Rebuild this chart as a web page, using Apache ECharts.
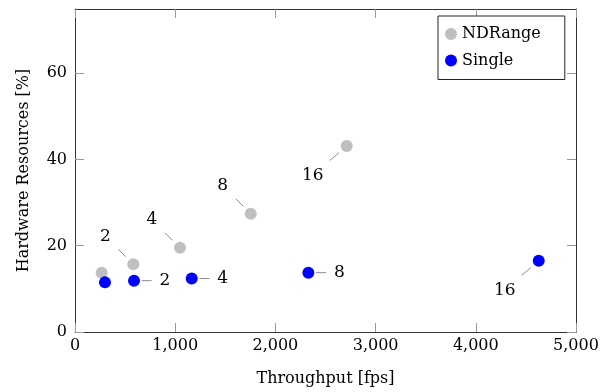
<!DOCTYPE html>
<html>
<head>
<meta charset="utf-8">
<script src="https://cdn.jsdelivr.net/npm/echarts@6/dist/echarts.min.js"></script>
<style>
html,body{margin:0;padding:0;background:#fff;}
#chart{width:604px;height:392px;}
</style>
</head>
<body>
<div id="chart"></div>
<script>
// ---- data ----
const seriesNames = ['NDRange', 'Single'];
const ndrangeX = [266, 582, 1048, 1754, 2712];
const ndrangeY = [13.75, 15.7, 19.5, 27.4, 43.1];
const ndrangeLabels = ['', '2', '4', '8', '16'];
const singleX = [299, 589, 1165, 2329, 4628];
const singleY = [11.5, 11.9, 12.4, 13.75, 16.5];
const singleLabels = ['', '2', '4', '8', '16'];
const xTicks = [0, 1000, 2000, 3000, 4000, 5000];
const yTicks = [0, 20, 40, 60];

// ---- styles (pin placement) ----
const ndrangePins = ['', 'nw', 'nw', 'nw', 'sw'];
const singlePins = ['', 'e', 'e', 'e', 'sw'];
const pinStyle = {
  nw: {label: [-28, -28], line: [[-7.5, -7.5], [-15, -15]]},
  e:  {label: [31, 0],   line: [[7.7, 0], [17.7, 0]]},
  sw: {label: [-34, 29.5], line: [[-7.7, 6.7], [-17, 14.5]]}
};

const FONT = '"DejaVu Serif", serif';
const zip = (xs, ys) => xs.map((x, i) => [x, ys[i]]);

function pinSeries(xs, ys, labels, pins) {
  return {
    type: 'custom',
    clip: false,
    silent: true,
    z: 3,
    data: xs.map((x, i) => [x, ys[i], i]),
    renderItem: function (params, api) {
      const i = api.value(2);
      const p = api.coord([api.value(0), api.value(1)]);
      const txt = labels[i];
      if (!txt) return null;
      const st = pinStyle[pins[i]];
      return {
        type: 'group',
        children: [
          {
            type: 'line',
            shape: {
              x1: p[0] + st.line[0][0], y1: p[1] + st.line[0][1],
              x2: p[0] + st.line[1][0], y2: p[1] + st.line[1][1]
            },
            style: {stroke: '#8c8c8c', lineWidth: 1}
          },
          {
            type: 'text',
            x: p[0] + st.label[0],
            y: p[1] + st.label[1],
            style: {
              text: txt, fill: '#000', font: '17px ' + FONT,
              textAlign: 'center', textVerticalAlign: 'middle'
            }
          }
        ]
      };
    }
  };
}

const axisLineStyle = {show: true, onZero: false, lineStyle: {color: '#333', width: 1}};
const tickStyle = {show: true, inside: true, length: 9, lineStyle: {color: '#999', width: 1}};

const chart = echarts.init(document.getElementById('chart'), null, {renderer: 'canvas'});
chart.setOption({
  animation: false,
  backgroundColor: '#fff',
  textStyle: {fontFamily: FONT},
  grid: {left: 75, right: 28, top: 9, bottom: 58, containLabel: false},
  legend: {
    data: seriesNames,
    orient: 'vertical',
    left: 438,
    top: 16,
    padding: [10, 24, 11, 7],
    itemGap: 10.5,
    itemWidth: 12,
    itemHeight: 12,
    icon: 'circle',
    borderColor: '#222',
    borderWidth: 1,
    backgroundColor: '#fff',
    textStyle: {fontFamily: FONT, fontSize: 16, color: '#000', lineHeight: 16}
  },
  xAxis: [
    {
      type: 'value', min: 0, max: 5000, interval: 1000,
      position: 'bottom',
      name: 'Throughput [fps]', nameLocation: 'middle', nameGap: 39,
      nameTextStyle: {fontFamily: FONT, fontSize: 16, color: '#000'},
      axisLine: axisLineStyle,
      axisTick: Object.assign({customValues: xTicks}, tickStyle),
      axisLabel: {
        customValues: xTicks,
        fontFamily: FONT, fontSize: 16, color: '#000', margin: 6,
        formatter: v => v.toLocaleString('en-US')
      },
      splitLine: {show: false}
    },
    {
      type: 'value', min: 0, max: 5000, interval: 1000,
      position: 'top',
      axisLine: axisLineStyle,
      axisTick: Object.assign({customValues: xTicks}, tickStyle),
      axisLabel: {show: false},
      splitLine: {show: false}
    }
  ],
  yAxis: [
    {
      type: 'value', min: 0, max: 74.85, interval: 20,
      position: 'left',
      name: 'Hardware Resources [%]', nameLocation: 'middle', nameGap: 43,
      nameTextStyle: {fontFamily: FONT, fontSize: 16, color: '#000'},
      axisLine: axisLineStyle,
      axisTick: Object.assign({customValues: yTicks}, tickStyle),
      axisLabel: {customValues: yTicks, fontFamily: FONT, fontSize: 16, color: '#000', margin: 8},
      splitLine: {show: false}
    },
    {
      type: 'value', min: 0, max: 74.85, interval: 20,
      position: 'right',
      axisLine: axisLineStyle,
      axisTick: Object.assign({customValues: yTicks}, tickStyle),
      axisLabel: {show: false},
      splitLine: {show: false}
    }
  ],
  series: [
    {
      name: seriesNames[0], type: 'scatter', symbol: 'circle', symbolSize: 12,
      itemStyle: {color: '#bfbfbf', opacity: 1}, data: zip(ndrangeX, ndrangeY), z: 4
    },
    {
      name: seriesNames[1], type: 'scatter', symbol: 'circle', symbolSize: 12,
      itemStyle: {color: '#0000ff', opacity: 1}, data: zip(singleX, singleY), z: 4
    },
    pinSeries(ndrangeX, ndrangeY, ndrangeLabels, ndrangePins),
    pinSeries(singleX, singleY, singleLabels, singlePins)
  ]
});
</script>
</body>
</html>
